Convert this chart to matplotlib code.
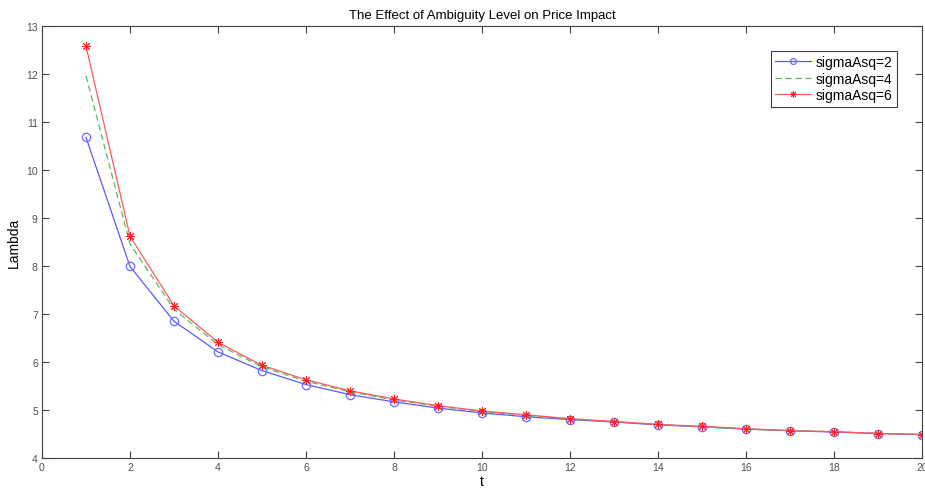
import matplotlib
matplotlib.use("Agg")
import matplotlib.pyplot as plt

plt.rcParams["font.family"] = ["Liberation Sans", "DejaVu Sans"]

t = list(range(1, 21))
lam_2 = [10.68, 7.99, 6.85, 6.21, 5.82, 5.53, 5.32, 5.17, 5.04, 4.94,
         4.86, 4.80, 4.75, 4.69, 4.65, 4.60, 4.57, 4.54, 4.51, 4.49]
lam_4 = [11.96, 8.46, 7.10, 6.36, 5.90, 5.60, 5.38, 5.21, 5.08, 4.97,
         4.89, 4.81, 4.76, 4.70, 4.65, 4.61, 4.57, 4.55, 4.51, 4.49]
lam_6 = [12.58, 8.62, 7.17, 6.41, 5.93, 5.63, 5.40, 5.23, 5.09, 4.98,
         4.90, 4.82, 4.76, 4.70, 4.66, 4.61, 4.57, 4.55, 4.51, 4.49]

fig = plt.figure(figsize=(9.25, 4.89), dpi=100)
ax = fig.add_axes([0.0454, 0.0613, 0.9514, 0.8835])

ax.plot(t, lam_2, color="#5a5aff", lw=0.9, marker="o", ms=6, mfc="none",
        mec="#6a6aff", mew=0.9, label="sigmaAsq=2")
ax.plot(t, lam_4, color="#5cb85c", lw=0.9, ls=(0, (5, 3)), label="sigmaAsq=4")
ax.plot(t, lam_6, color="#ff5a5a", lw=0.9, marker=(8, 2, 0), ms=6.5,
        mec="#ff2020", mew=0.7, label="sigmaAsq=6")

ax.set_xlim(0, 20)
ax.set_ylim(4, 13)
ax.set_xticks(range(0, 21, 2))
ax.set_yticks(range(4, 14))
ax.tick_params(direction="in", top=True, right=True, labelsize=7.5,
               labelcolor="#505050", color="#404040", length=5, width=0.8,
               pad=3)
for s in ax.spines.values():
    s.set_color("#404040")
    s.set_linewidth(0.8)

ax.set_title("The Effect of Ambiguity Level on Price Impact", fontsize=9.5, pad=6)
ax.set_xlabel("t", fontsize=10, labelpad=1)
ax.set_ylabel("Lambda", fontsize=10, labelpad=4)

leg = ax.legend(loc="upper right", bbox_to_anchor=(0.971, 0.943), fontsize=10,
                fancybox=False, framealpha=1, edgecolor="#404040",
                borderpad=0.3, labelspacing=0.2, handlelength=2.6,
                handletextpad=0.3, borderaxespad=0, markerscale=0.7)
leg.get_frame().set_linewidth(0.8)

fig.savefig("out.png", dpi=100)
